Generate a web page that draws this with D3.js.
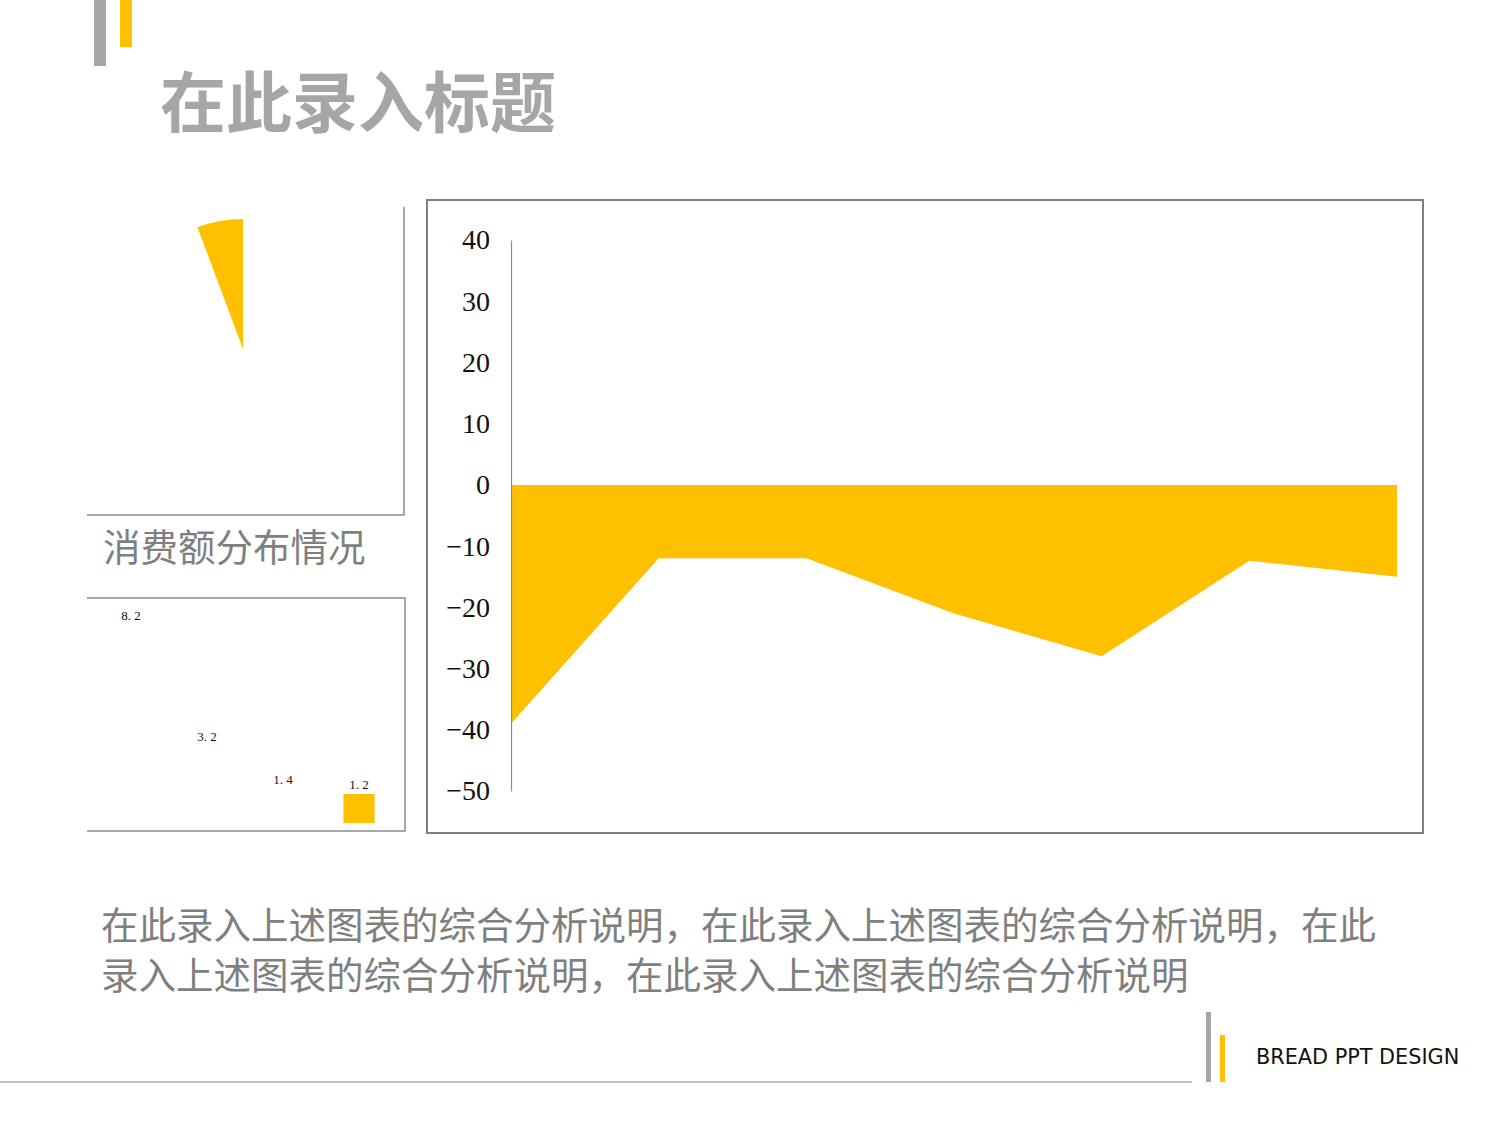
<!DOCTYPE html>
<html>
<head>
<meta charset="utf-8">
<script src="https://cdn.jsdelivr.net/npm/d3@7/dist/d3.min.js"></script>
<style>
  body { margin: 0; background: #fff; }
  svg { display: block; }
</style>
</head>
<body>
<div id="chart"></div>
<script>
// --- data ---
const titleText = "在此录入标题";
const pieLabel = "消费额分布情况";
const pieCategories = ["其他", "消费额"];
const pieValues = [94.3, 5.7];

const barCategories = ["A", "B", "C", "D"];
const barValues = [8.2, 3.2, 1.4, 1.2];

const areaCategories = ["1", "2", "3", "4", "5", "6", "7"];
const areaValues = [-39, -12, -12, -21, -28, -12.4, -15];
const yTicks = [40, 30, 20, 10, 0, -10, -20, -30, -40, -50];

const noteLines = [
  "在此录入上述图表的综合分析说明，在此录入上述图表的综合分析说明，在此",
  "录入上述图表的综合分析说明，在此录入上述图表的综合分析说明"
];
const footerText = "BREAD PPT DESIGN";

const YELLOW = "#FFC000";
const GREY = "#a6a6a6";
const cjk = "'Noto Sans CJK SC', 'Noto Sans', sans-serif";
const serif = "'Liberation Serif', 'DejaVu Serif', serif";

const svg = d3.select("#chart")
  .append("svg")
  .attr("width", 1500)
  .attr("height", 1125);

// decoration bars at top-left
svg.append("rect").attr("x", 94).attr("y", 0).attr("width", 12).attr("height", 66).attr("fill", GREY);
svg.append("rect").attr("x", 120).attr("y", 0).attr("width", 12).attr("height", 47).attr("fill", YELLOW);

svg.append("text")
  .attr("x", 160)
  .attr("y", 127)
  .style("font-family", cjk)
  .style("font-weight", 700)
  .style("font-size", "66px")
  .attr("fill", GREY)
  .text(titleText);

// ---- pie (top-left panel) ----
svg.append("path")
  .attr("d", "M87,515H404V207")
  .attr("fill", "none")
  .attr("stroke", "#8c8c8c")
  .attr("stroke-width", 1.5);

const pie = d3.pie().sort(null)(pieValues);
const arc = d3.arc().innerRadius(0).outerRadius(130);
svg.append("g")
  .attr("transform", "translate(243,349)")
  .selectAll("path")
  .data(pie)
  .join("path")
  .attr("d", arc)
  .attr("fill", (d, i) => i === pieValues.length - 1 ? YELLOW : "none");

svg.append("text")
  .attr("x", 103)
  .attr("y", 561)
  .style("font-family", cjk)
  .style("font-size", "37.5px")
  .attr("fill", "#7f7f7f")
  .text(pieLabel);

// ---- bars (bottom-left panel) ----
svg.append("path")
  .attr("d", "M87,598H405V831H87")
  .attr("fill", "none")
  .attr("stroke", "#8c8c8c")
  .attr("stroke-width", 1.5);

const bx = d3.scaleBand()
  .domain(barCategories)
  .range([93, 397])
  .paddingInner(0.59)
  .paddingOuter(0.295);

const by = d3.scaleLinear()
  .domain([0, 1.2])
  .range([823, 794]);

svg.append("g")
  .selectAll("rect")
  .data(barValues)
  .join("rect")
  .attr("x", (d, i) => bx(barCategories[i]))
  .attr("y", d => by(d))
  .attr("width", bx.bandwidth())
  .attr("height", d => by(0) - by(d))
  .attr("fill", (d, i) => i === barValues.length - 1 ? YELLOW : "#ffffff");

svg.append("g")
  .selectAll("text")
  .data(barValues)
  .join("text")
  .attr("x", (d, i) => bx(barCategories[i]) + bx.bandwidth() / 2)
  .attr("y", d => by(d) - 5)
  .attr("text-anchor", "middle")
  .style("font-family", serif)
  .style("font-size", "13px")
  .attr("fill", "#111")
  .text(d => d3.format(".1f")(d).replace(".", ". "));

// ---- area chart (right panel) ----
svg.append("rect")
  .attr("x", 427)
  .attr("y", 200)
  .attr("width", 996)
  .attr("height", 633)
  .attr("fill", "none")
  .attr("stroke", "#7f7f7f")
  .attr("stroke-width", 2);

const x = d3.scalePoint()
  .domain(areaCategories)
  .range([511, 1397]);

const y = d3.scaleLinear()
  .domain([-50, 40])
  .range([791, 240]);

const area = d3.area()
  .x((d, i) => x(areaCategories[i]))
  .y0(y(0))
  .y1(d => y(d));

svg.append("path")
  .datum(areaValues)
  .attr("d", area)
  .attr("fill", YELLOW);

const yAxis = svg.append("g")
  .attr("transform", "translate(511,0)")
  .call(d3.axisLeft(y)
    .tickValues(yTicks)
    .tickSize(0)
    .tickPadding(21)
    .tickFormat(d => d < 0 ? "\u2212" + Math.abs(d) : String(d)));

yAxis.select(".domain")
  .attr("stroke", "#8c8c8c")
  .attr("stroke-width", 1.2);

yAxis.selectAll("text")
  .style("font-family", serif)
  .style("font-size", "28px")
  .attr("fill", "#111");

// ---- notes ----
svg.append("g")
  .selectAll("text")
  .data(noteLines)
  .join("text")
  .attr("x", 101)
  .attr("y", (d, i) => 939 + i * 50)
  .style("font-family", cjk)
  .style("font-size", "37.5px")
  .attr("fill", "#7f7f7f")
  .text(d => d);

// ---- footer ----
svg.append("line")
  .attr("x1", 0).attr("x2", 1192)
  .attr("y1", 1082).attr("y2", 1082)
  .attr("stroke", "#bfbfbf")
  .attr("stroke-width", 2);
svg.append("rect").attr("x", 1206).attr("y", 1012).attr("width", 5).attr("height", 70).attr("fill", GREY);
svg.append("rect").attr("x", 1220).attr("y", 1035).attr("width", 5).attr("height", 47).attr("fill", YELLOW);

svg.append("text")
  .attr("x", 1256)
  .attr("y", 1064)
  .style("font-family", "'DejaVu Sans', sans-serif")
  .style("font-size", "20.8px")
  .attr("fill", "#111")
  .text(footerText);
</script>
</body>
</html>
